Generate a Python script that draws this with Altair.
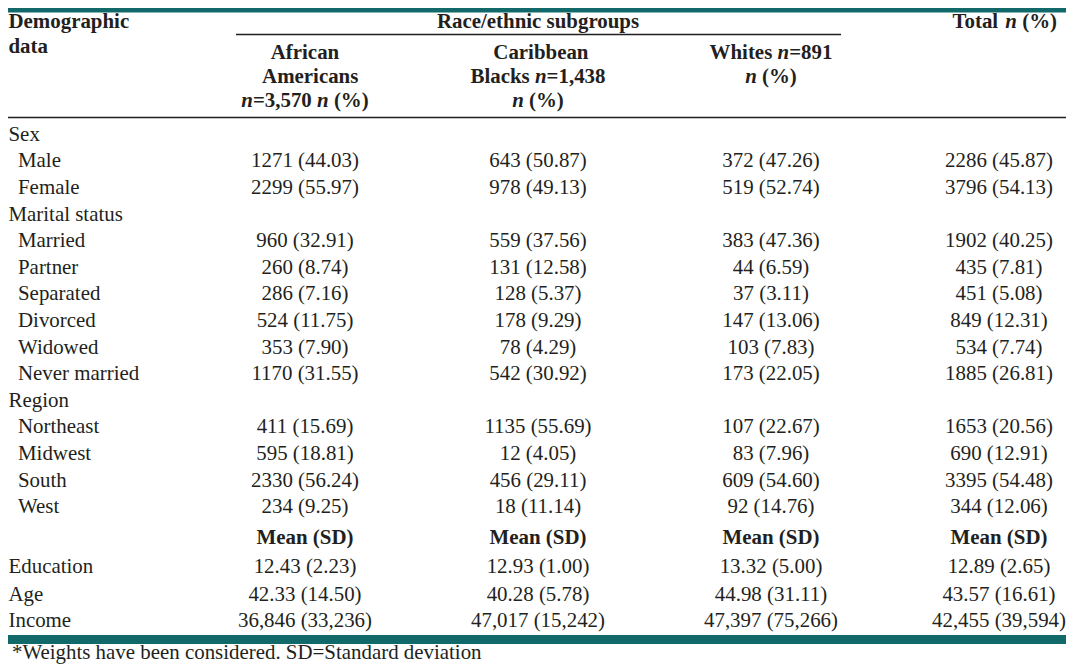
import altair as alt
import pandas as pd

# ---------------- data ----------------
row_labels = ["Sex", "Male", "Female", "Marital status", "Married", "Partner",
              "Separated", "Divorced", "Widowed", "Never married", "Region",
              "Northeast", "Midwest", "South", "West", "", "Education", "Age", "Income"]
row_level = [0, 1, 1, 0, 1, 1, 1, 1, 1, 1, 0, 1, 1, 1, 1, 0, 0, 0, 0]

african = ["", "1271 (44.03)", "2299 (55.97)", "", "960 (32.91)", "260 (8.74)",
           "286 (7.16)", "524 (11.75)", "353 (7.90)", "1170 (31.55)", "",
           "411 (15.69)", "595 (18.81)", "2330 (56.24)", "234 (9.25)", "",
           "12.43 (2.23)", "42.33 (14.50)", "36,846 (33,236)"]
caribbean = ["", "643 (50.87)", "978 (49.13)", "", "559 (37.56)", "131 (12.58)",
             "128 (5.37)", "178 (9.29)", "78 (4.29)", "542 (30.92)", "",
             "1135 (55.69)", "12 (4.05)", "456 (29.11)", "18 (11.14)", "",
             "12.93 (1.00)", "40.28 (5.78)", "47,017 (15,242)"]
whites = ["", "372 (47.26)", "519 (52.74)", "", "383 (47.36)", "44 (6.59)",
          "37 (3.11)", "147 (13.06)", "103 (7.83)", "173 (22.05)", "",
          "107 (22.67)", "83 (7.96)", "609 (54.60)", "92 (14.76)", "",
          "13.32 (5.00)", "44.98 (31.11)", "47,397 (75,266)"]
total = ["", "2286 (45.87)", "3796 (54.13)", "", "1902 (40.25)", "435 (7.81)",
         "451 (5.08)", "849 (12.31)", "534 (7.74)", "1885 (26.81)", "",
         "1653 (20.56)", "690 (12.91)", "3395 (54.48)", "344 (12.06)", "",
         "12.89 (2.65)", "43.57 (16.61)", "42,455 (39,594)"]
stat_header = "Mean (SD)"
stat_row = 15

stub_header = ["Demographic", "data"]
group_header = "Race/ethnic subgroups"
# column headers: list of lines, each line a list of (text, italic)
col_headers = [
    [[("African", 0)], [("Americans", 0)], [("n", 1), ("=3,570 ", 0), ("n", 1), (" (%)", 0)]],
    [[("Caribbean", 0)], [("Blacks ", 0), ("n", 1), ("=1,438", 0)], [("n", 1), (" (%)", 0)]],
    [[("Whites ", 0), ("n", 1), ("=891", 0)], [("n", 1), (" (%)", 0)]],
]
total_header = [("Total ", 0), ("n", 1), (" (%)", 0)]
footnote = "*Weights have been considered. SD=Standard deviation"

# ---------------- layout (page pixel units; page margin is 8px) ----------------
PW, PH = 1058, 656
FS = 20.9
FONT = "Liberation Serif"
INK = "#231f20"
TEAL = "#12696a"

col_centers = [305, 538, 771, 999]
row_y = [140.7 + i * 26.6 for i in range(15)] + [544, 573, 600.5, 627.3]

BOLD_W = {' ': 250, '(': 333, ')': 333, '%': 1000, ',': 250, '=': 570,
          'B': 667, 'l': 278, 'a': 500, 'c': 444, 'k': 556, 's': 389, 'W': 1000,
          'h': 556, 'i': 278, 't': 333, 'e': 444, 'n': 556, 'T': 667, 'o': 500}


def seg_width(text):
    return sum(BOLD_W.get(c, 500) for c in text) / 1000.0 * FS


bold_left, bold_ital, bold_center = [], [], []
reg_left, reg_center = [], []


def place_line(segs, y, center=None, right=None):
    tot = sum(seg_width(t) for t, _ in segs)
    x = center - tot / 2 if center is not None else right - tot
    for t, it in segs:
        lead = len(t) - len(t.lstrip(" "))
        (bold_ital if it else bold_left).append(
            {"x": x + seg_width(" " * lead), "y": y, "t": t.strip()})
        x += seg_width(t)


# stub header
bold_left.append({"x": 8.5, "y": 28, "t": stub_header[0]})
bold_left.append({"x": 8.5, "y": 52.5, "t": stub_header[1]})
bold_center.append({"x": 538, "y": 28, "t": group_header})
place_line(total_header, 28, right=1057)
hdr_y = [59, 83, 107]
for ci, lines in enumerate(col_headers):
    for li, segs in enumerate(lines):
        place_line(segs, hdr_y[li], center=col_centers[ci])

# body
for i, lab in enumerate(row_labels):
    if lab:
        reg_left.append({"x": 8.5 if row_level[i] == 0 else 18, "y": row_y[i], "t": lab})
for ci, col in enumerate([african, caribbean, whites, total]):
    for i, v in enumerate(col):
        if i == stat_row:
            bold_center.append({"x": col_centers[ci], "y": row_y[i], "t": stat_header})
        elif v:
            reg_center.append({"x": col_centers[ci], "y": row_y[i], "t": v})
reg_left.append({"x": 12, "y": 659, "t": footnote})

bars = pd.DataFrame([{"x": 0, "x2": 1074, "y": 8, "y2": 12.5},
                     {"x": 4, "x2": 1074, "y": 635, "y2": 644}])
rules = pd.DataFrame([{"x": 236, "x2": 841, "y": 34.5},
                      {"x": 0, "x2": 1074, "y": 117.5}])

xs = alt.Scale(domain=[8, 8 + PW], nice=False, zero=False)
ys = alt.Scale(domain=[8, 8 + PH], nice=False, zero=False, reverse=True)
X = alt.X("x:Q", scale=xs, axis=None)
Y = alt.Y("y:Q", scale=ys, axis=None)

bar_layer = alt.Chart(bars).mark_rect(color=TEAL).encode(x=X, x2="x2:Q", y=Y, y2="y2:Q")
rule_layer = alt.Chart(rules).mark_rule(color=INK, strokeWidth=1.4).encode(x=X, x2="x2:Q", y=Y)


def text_layer(rows, align, weight, style="normal"):
    return alt.Chart(pd.DataFrame(rows)).mark_text(
        align=align, baseline="alphabetic", font=FONT, fontSize=FS,
        fontWeight=weight, fontStyle=style, color=INK
    ).encode(x=X, y=Y, text="t:N")


chart = alt.layer(
    bar_layer, rule_layer,
    text_layer(reg_left, "left", "normal"),
    text_layer(reg_center, "center", "normal"),
    text_layer(bold_left, "left", "bold"),
    text_layer(bold_ital, "left", "bold", "italic"),
    text_layer(bold_center, "center", "bold"),
).properties(
    width=PW, height=PH, padding=0,
    autosize=alt.AutoSizeParams(type="none"),
    background="white",
).configure_view(stroke=None)

chart.save("out.html", embed_options={"renderer": "svg", "actions": False})
